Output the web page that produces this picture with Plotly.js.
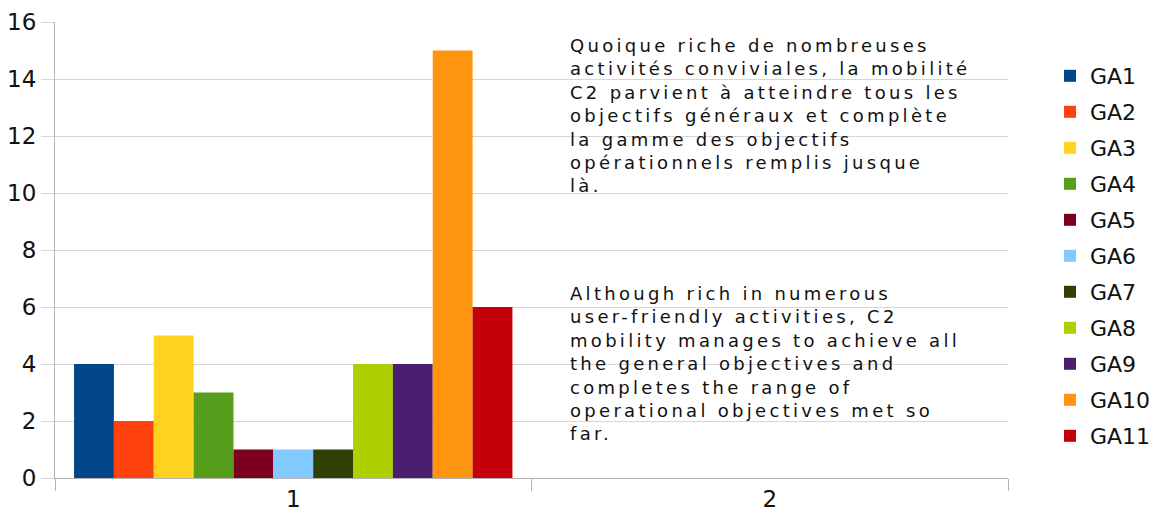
<!DOCTYPE html>
<html>
<head>
<meta charset="utf-8">
<script src="https://cdn.plot.ly/plotly-3.0.1.min.js"></script>
<style>
  html, body { margin: 0; padding: 0; background: #fff; }
  #chart { width: 1163px; height: 517px; }
  .legend .legendpoints path { stroke-width: 3px !important; }
  .annotation-text { letter-spacing: 3.3px; }
</style>
</head>
<body>
<div id="chart"></div>
<script>
// Categories on the x axis
const categories = ["1", "2"];
// Series names
const seriesNames = ["GA1", "GA2", "GA3", "GA4", "GA5", "GA6", "GA7", "GA8", "GA9", "GA10", "GA11"];
// Values for category "1" (category "2" is empty)
const valuesCat1 = [4, 2, 5, 3, 1, 1, 1, 4, 4, 15, 6];
const valuesCat2 = [null, null, null, null, null, null, null, null, null, null, null];
// Series colours
const seriesColors = ["#004586", "#ff420e", "#ffd320", "#579d1c", "#7e0021", "#83caff",
                      "#314004", "#aecf00", "#4b1f6f", "#ff950e", "#c5000b"];
// Y tick values
const yTicks = [0, 2, 4, 6, 8, 10, 12, 14, 16];
// Text blocks
const frenchLines = [
  "Quoique riche de nombreuses",
  "activités conviviales, la mobilité",
  "C2 parvient à atteindre tous les",
  "objectifs généraux et complète",
  "la gamme des objectifs",
  "opérationnels remplis jusque",
  "là."
];
const englishLines = [
  "Although rich in numerous",
  "user-friendly activities, C2",
  "mobility manages to achieve all",
  "the general objectives and",
  "completes the range of",
  "operational objectives met so",
  "far."
];

const FONT = "DejaVu Sans, Liberation Sans, Arial, sans-serif";

const traces = seriesNames.map((name, i) => ({
  type: "bar",
  name: name,
  x: categories,
  y: [valuesCat1[i], valuesCat2[i]],
  marker: { color: seriesColors[i], line: { width: 0, color: seriesColors[i] } },
  legendgroup: "g" + i,
  hoverinfo: "name+y"
}));

// geometry of plot area (px)
const W = 1163, H = 517;
const mL = 55, mR = 155, mT = 22, mB = 39;
const plotH = H - mT - mB;
function paperY(px) { return (H - mB - px) / plotH; }
function paperX(px) { return (px - mL) / (W - mL - mR); }

const annotations = [
  {
    text: frenchLines.join("<br>"), xref: "paper", yref: "paper",
    x: paperX(568), y: paperY(33), align: "left",
    xanchor: "left", yanchor: "top", showarrow: false,
    font: { family: FONT, size: 18, color: "#111" }
  },
  {
    text: englishLines.join("<br>"), xref: "paper", yref: "paper",
    x: paperX(568), y: paperY(281), align: "left",
    xanchor: "left", yanchor: "top", showarrow: false,
    font: { family: FONT, size: 18, color: "#111" }
  }
];

const layout = {
  width: W, height: H,
  margin: { l: mL, r: mR, t: mT, b: mB, pad: 0, autoexpand: false },
  paper_bgcolor: "#ffffff",
  plot_bgcolor: "#ffffff",
  barmode: "group",
  bargap: 0.08,
  bargroupgap: 0,
  font: { family: FONT, color: "#111" },
  showlegend: true,
  legend: {
    x: paperX(1050), xanchor: "left",
    y: paperY(256), yanchor: "middle",
    font: { family: FONT, size: 22, color: "#111" },
    tracegroupgap: 4.4,
    bgcolor: "rgba(0,0,0,0)",
    borderwidth: 0,
    traceorder: "grouped"
  },
  xaxis: {
    type: "category",
    showgrid: false,
    showline: true, linecolor: "#b3b3b3", linewidth: 1,
    ticks: "outside", tickson: "boundaries", ticklen: 12,
    tickcolor: "#b3b3b3", tickwidth: 1,
    tickfont: { family: FONT, size: 23, color: "#111" },
    zeroline: false,
    fixedrange: true
  },
  yaxis: {
    range: [0, 16],
    tickvals: yTicks,
    ticktext: yTicks.map(String),
    showgrid: true, gridcolor: "#d6d6d6", gridwidth: 1,
    showline: true, linecolor: "#b3b3b3", linewidth: 1,
    ticks: "outside", ticklen: 13, tickcolor: "#d6d6d6", tickwidth: 1,
    tickfont: { family: FONT, size: 23, color: "#111" },
    zeroline: false,
    fixedrange: true
  },
  annotations: annotations
};

Plotly.newPlot("chart", traces, layout, { displayModeBar: false, staticPlot: true });
</script>
</body>
</html>
